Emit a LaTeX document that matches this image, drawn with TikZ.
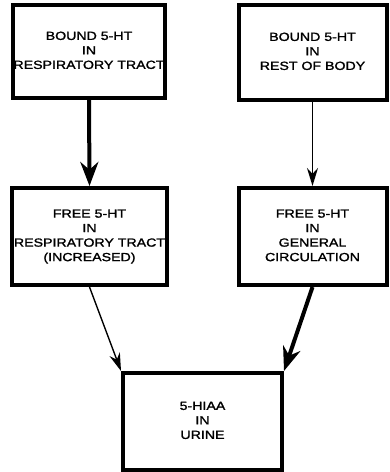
\documentclass[tikz,border=0pt]{standalone}
\usepackage{fontspec}
\setmainfont[FakeStretch=1.2,FakeBold=1.5]{Liberation Sans}
\usetikzlibrary{arrows.meta}
\newcommand\boxtext[2]{\raisebox{#1}{\begin{tabular}{@{}c@{}}#2\end{tabular}}}
\begin{document}
\begin{tikzpicture}[x=1pt,y=1pt,
  flowbox/.style={draw=black, line width=4pt, fill=white, rectangle, inner sep=0pt,
    font=\fontsize{11.8}{14.5}\selectfont},
  thinarrow/.style={line width=1.4pt, -{Stealth[length=18pt,width=11pt]}},
  thickarrow/.style={line width=4pt, -{Stealth[length=24pt,width=18pt]}}]
\useasboundingbox (0,0) rectangle (389,472);
\node[flowbox, minimum width=152pt, minimum height=93pt] (b1) at (89,420.5)
  {\boxtext{0pt}{BOUND 5-HT\\IN\\RESPIRATORY TRACT}};
\node[flowbox, minimum width=148pt, minimum height=95pt] (b2) at (312.5,419.5)
  {\boxtext{0pt}{BOUND 5-HT\\IN\\REST OF BODY}};
\node[flowbox, minimum width=155pt, minimum height=97pt] (b3) at (89.5,235.5)
  {\boxtext{-6pt}{FREE 5-HT\\IN\\RESPIRATORY TRACT\\(INCREASED)}};
\node[flowbox, minimum width=148pt, minimum height=97pt] (b4) at (312.5,235.5)
  {\boxtext{-6pt}{FREE 5-HT\\IN\\GENERAL\\CIRCULATION}};
\node[flowbox, minimum width=159pt, minimum height=97pt] (b5) at (202.5,50.5)
  {\boxtext{6pt}{5-HIAA\\IN\\URINE}};
\draw[thickarrow] (b1.south) -- (b3.north);
\draw[thinarrow] (b2.south) -- (b4.north);
\draw[thinarrow] (b3.south) -- (b5.north west);
\draw[thickarrow] (b4.south) -- (b5.north east);
\end{tikzpicture}
\end{document}
